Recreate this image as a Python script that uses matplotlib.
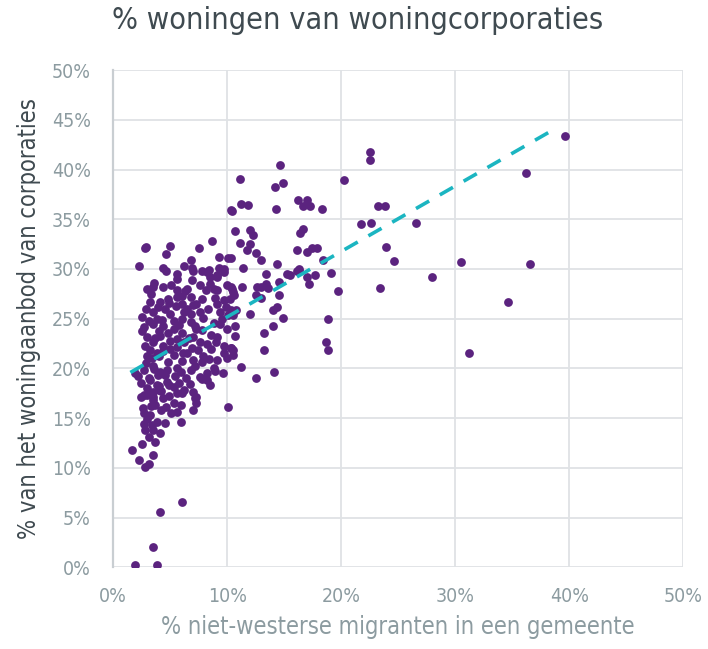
import numpy as np
import matplotlib
matplotlib.use("Agg")
import matplotlib.pyplot as plt

# % niet-westerse migranten (x) en % corporatiewoningen (y)
x_vals = [
    39.6, 36.2, 36.6, 34.6, 31.2, 30.5, 28.0, 26.6, 24.6, 23.9, 23.4, 23.2, 23.8, 22.5, 22.5, 21.7, 22.6,
    14.6, 11.1, 14.2, 14.9, 20.2, 11.2, 11.8, 10.4, 10.3, 14.3, 16.2, 17.0, 16.6, 17.3, 18.3, 10.7, 12.0,
    12.3, 16.6, 16.4, 11.1, 12.0, 11.7, 12.5, 13.0, 10.3, 16.1, 17.0, 17.4, 17.9, 18.4, 11.4, 14.4, 16.3,
    13.4, 15.2, 15.5, 16.1, 16.3, 17.0, 17.7, 17.2, 19.1, 19.7, 10.3, 10.5, 11.3, 12.6, 13.0, 13.4, 13.6,
    12.5, 13.0, 14.5, 14.5, 14.4, 14.0, 12.0, 14.9, 10.3, 10.5, 18.8, 10.7, 14.0, 13.2, 10.7, 18.7, 18.8,
    10.3, 10.5, 10.5, 13.2, 11.2, 12.5, 14.1,
    8.7, 2.8, 2.9, 5.0, 7.5, 4.6, 9.3, 10.1, 6.8, 6.2, 6.9, 2.3, 4.4, 8.4, 9.3, 9.7, 5.6, 8.5, 9.1,
    4.6, 5.6, 7.0, 8.2, 9.1, 9.7,
    3.0, 3.5, 4.4, 5.1, 5.6, 6.5, 7.6, 8.1, 8.5, 9.1, 10.0, 10.4,
    3.2, 4.1, 5.6, 6.0, 6.8, 7.3, 9.1, 9.7, 10.6,
    2.5, 3.5, 5.0, 6.2, 6.8, 7.6, 9.4, 10.1, 10.8,
    2.7, 3.5, 4.4, 5.3, 6.0, 6.8, 7.3, 9.4, 10.0,
    3.0, 3.5, 4.1, 5.0, 6.2, 7.0, 7.6, 8.2, 9.1, 9.7, 10.3,
    3.0, 3.8, 4.4, 5.3, 6.5, 7.0, 7.9, 9.1, 9.7,
    2.7, 3.5, 4.1, 4.7, 5.9, 7.2, 7.6, 8.2, 8.8,
    2.4, 3.2, 3.8, 4.7, 5.3, 6.2, 7.3, 8.2, 8.5, 2.7, 3.5, 4.4,
    2.4, 3.0, 3.5, 4.0, 3.5, 3.7, 4.6, 5.3, 5.6, 6.0, 5.9, 5.1, 5.6, 7.2, 7.3, 7.0, 10.1,
    2.7, 3.2, 3.8, 3.4, 2.7, 2.8, 3.5, 4.1, 3.1, 3.7, 2.5, 5.9,
    1.6, 2.3, 3.5, 3.1, 2.8, 6.0, 4.1, 3.5, 1.9, 3.8,
    3.3, 4.8, 6.3, 7.8, 8.8, 2.9, 4.5, 5.5, 6.5, 8.3, 3.8, 5.3, 7.9, 8.8, 2.5, 4.0, 6.0, 7.8, 8.6, 2.8,
    4.4, 5.6, 6.9, 8.6, 3.4, 4.8, 6.0, 7.4, 2.9, 3.9, 5.4, 6.4, 2.2, 3.0, 4.2, 5.8, 2.6, 4.9, 3.3, 1.9,
    3.1, 4.3, 5.8, 6.6, 7.2, 3.7, 4.8, 5.6, 3.2, 4.0, 5.0, 6.1, 7.8, 8.4, 3.6, 4.5, 5.6, 6.8, 3.1, 4.0,
    4.9, 6.7, 7.0, 7.8, 3.9, 4.9, 6.0, 7.0, 8.9, 9.5, 9.9, 10.2, 9.0, 10.0, 9.6, 8.9, 3.6, 6.9, 7.8, 4.2,
    3.0, 4.5,
]
y_vals = [
    43.4, 39.7, 30.5, 26.7, 21.5, 30.7, 29.2, 34.6, 30.8, 32.2, 28.1, 36.3, 36.3, 41.8, 41.0, 34.5, 34.6,
    40.5, 39.0, 38.2, 38.6, 38.9, 36.5, 36.4, 35.8, 35.9, 36.0, 36.9, 36.9, 36.3, 36.3, 36.0, 33.8, 33.9,
    33.4, 34.0, 33.6, 32.6, 32.5, 31.9, 31.6, 30.9, 31.1, 31.9, 31.7, 32.1, 32.1, 30.9, 30.1, 30.5, 30.0,
    29.5, 29.5, 29.4, 29.8, 29.8, 29.2, 29.4, 28.5, 29.6, 27.8, 28.2, 27.7, 28.2, 28.2, 28.2, 28.5, 28.1,
    27.4, 27.1, 28.7, 27.4, 26.2, 25.9, 25.5, 25.1, 25.9, 25.4, 25.0, 24.3, 24.3, 23.6, 23.3, 22.7, 21.8,
    22.0, 21.8, 21.3, 21.8, 20.1, 19.0, 19.6,
    32.8, 32.1, 32.2, 32.3, 32.1, 31.5, 31.2, 31.1, 30.9, 30.3, 30.1, 30.3, 30.1, 29.9, 30.1, 30.0, 29.0, 29.2, 29.2,
    29.8, 29.5, 29.8, 29.7, 29.4, 29.7,
    28.0, 28.2, 28.2, 28.4, 27.9, 28.0, 28.4, 27.9, 28.5, 27.9, 28.4, 28.0,
    26.7, 26.7, 27.2, 26.5, 27.2, 26.5, 26.5, 26.9, 27.4,
    25.2, 25.7, 25.5, 25.7, 25.5, 25.7, 25.7, 25.4, 25.9,
    24.2, 24.5, 24.3, 24.0, 25.0, 24.7, 24.0, 24.5, 24.0,
    23.2, 22.7, 23.3, 22.8, 22.7, 23.2, 22.7, 22.5, 23.2, 22.2, 22.0,
    21.2, 21.5, 21.7, 21.3, 21.5, 20.8, 21.2, 20.8, 21.5,
    19.8, 20.2, 19.6, 19.8, 19.6, 20.2, 19.1, 19.5, 20.0,
    18.5, 18.8, 18.3, 18.6, 18.1, 17.8, 17.1, 18.8, 18.3, 17.3, 17.1, 17.0,
    17.1, 17.3, 17.6, 17.8, 16.8, 16.3, 16.1, 16.5, 17.5, 17.5, 16.3, 15.5, 15.6, 17.0, 16.5, 15.8, 16.1,
    15.5, 15.3, 14.6, 14.3, 14.4, 13.8, 13.8, 13.5, 13.1, 12.6, 12.4, 14.6,
    11.8, 10.8, 11.3, 10.4, 10.1, 6.6, 5.6, 2.0, 0.2, 0.2,
    27.5, 27.0, 27.8, 27.0, 28.0, 26.0, 26.0, 26.3, 26.0, 26.0, 25.0, 24.8, 25.1, 24.6, 23.8, 23.8, 23.6, 23.9, 23.4, 22.2,
    22.3, 22.1, 22.0, 21.9, 21.0, 20.6, 20.7, 21.8, 20.5, 19.3, 19.2, 19.0, 19.2, 18.0, 17.7, 18.5, 16.0, 17.2, 16.2, 19.5,
    24.8, 24.9, 24.4, 23.1, 24.3, 23.1, 23.6, 23.0, 21.8, 21.2, 21.9, 21.5, 20.6, 20.9, 19.9, 19.3, 20.0, 19.8, 19.0, 18.2,
    18.3, 18.4, 17.6, 18.9, 26.2, 26.6, 27.3, 26.4, 27.1, 25.0, 26.2, 27.0, 22.7, 21.0, 19.5, 19.7, 28.6, 28.9, 29.8, 15.8,
    14.9, 14.5,
]

trend_intercept = 18.6
trend_slope = 0.658
trend_x = [1.5, 39.0]

ticks = [0, 10, 20, 30, 40, 50]
y_ticks = [0, 5, 10, 15, 20, 25, 30, 35, 40, 45, 50]

title = "% woningen van woningcorporaties"
xlabel = "% niet-westerse migranten in een gemeente"
ylabel = "% van het woningaanbod van corporaties"

plt.rcParams['font.family'] = ['DejaVu Sans']
plt.rcParams['font.stretch'] = 'condensed'

fig = plt.figure(figsize=(7.08, 6.49), dpi=100)
ax = fig.add_axes([0.160, 0.126, 0.805, 0.766])

ax.scatter(x_vals, y_vals, s=40, color='#5b237f', linewidths=0, zorder=3)

tx = np.array(trend_x)
ax.plot(tx, trend_intercept + trend_slope * tx, color='#1bb5c1', lw=2.6,
        dashes=(4.2, 3.4), zorder=4)

ax.set_xlim(0, 50)
ax.set_ylim(0, 50)
ax.set_xticks(ticks)
ax.set_yticks(y_ticks)
ax.set_xticklabels([f"{t}%" for t in ticks])
ax.set_yticklabels([f"{t}%" for t in y_ticks])
ax.grid(True, color='#dfe2e5', lw=1.3, zorder=0)
ax.set_axisbelow(True)
for s in ['top', 'right', 'bottom']:
    ax.spines[s].set_visible(False)
ax.spines['left'].set_color('#c9ced2')
ax.spines['left'].set_linewidth(1.6)
ax.tick_params(axis='y', length=0, labelsize=14, labelcolor='#8c9ba0', pad=16)
ax.tick_params(axis='x', length=0, labelsize=14, labelcolor='#8c9ba0', pad=14)

ax.set_xlabel(xlabel, fontsize=17, color='#8c9ba0', labelpad=7)
ax.set_ylabel(ylabel, fontsize=17, color='#3f4a50', labelpad=8)
fig.text(0.505, 0.968, title, fontsize=22, color='#3f4a50', ha='center', va='center')

fig.savefig("out.png", dpi=100)
